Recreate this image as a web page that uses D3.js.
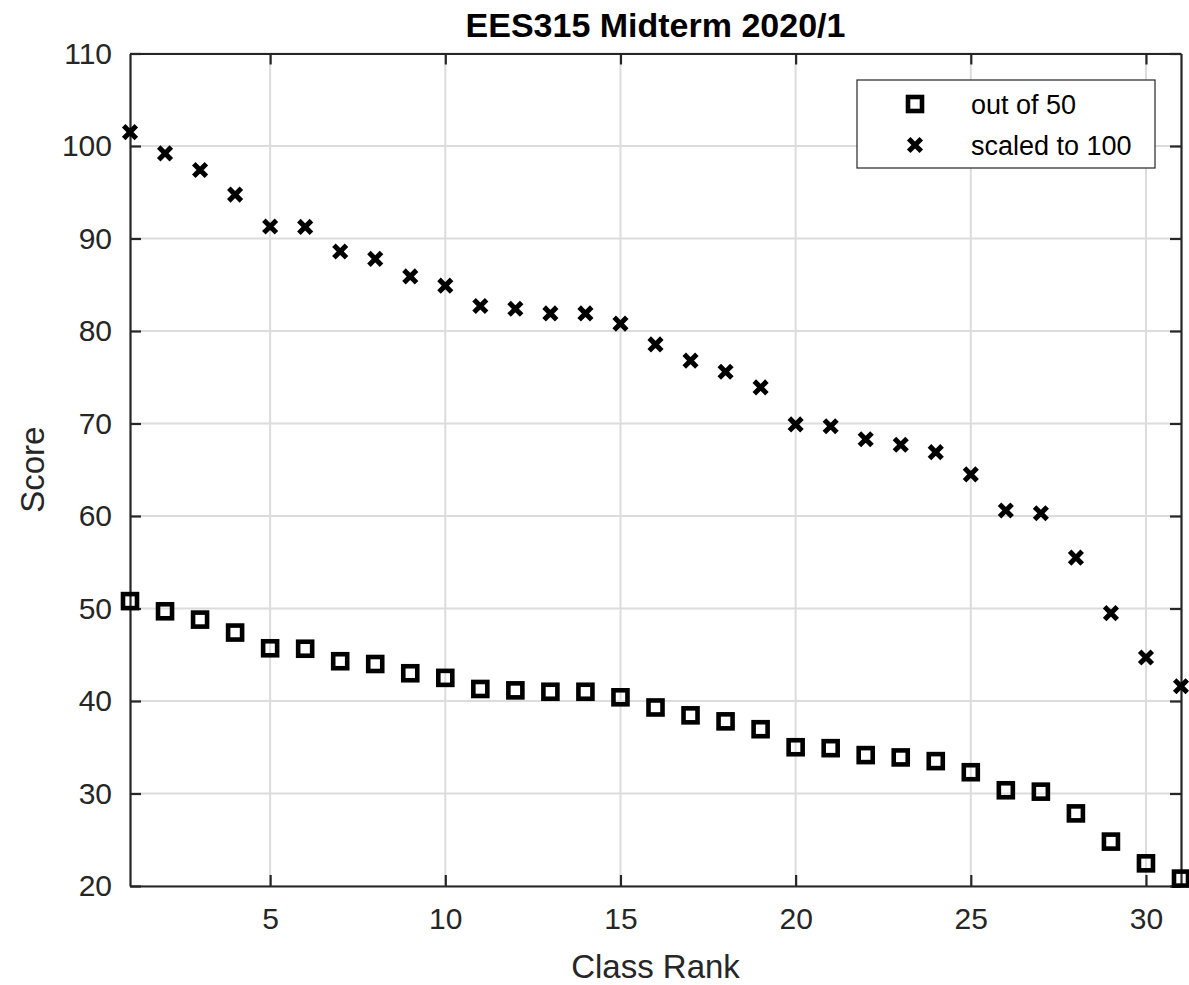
<!DOCTYPE html>
<html>
<head>
<meta charset="utf-8">
<script src="https://cdn.jsdelivr.net/npm/d3@7"></script>
<style>
  body { margin: 0; background: #fff; }
  text { font-family: "Liberation Sans", Arial, sans-serif; }
</style>
</head>
<body>
<div id="chart"></div>
<script>
// data
var ranks = d3.range(1, 32);
var outOf50 = [50.8, 49.7, 48.8, 47.4, 45.7, 45.65, 44.3, 44.0, 43.0, 42.5,
               41.3, 41.15, 41.0, 41.0, 40.4, 39.3, 38.45, 37.8, 36.95, 35.0,
               34.9, 34.15, 33.9, 33.5, 32.3, 30.35, 30.2, 27.85, 24.8, 22.45, 20.8];
var scaled100 = [101.5, 99.2, 97.4, 94.75, 91.3, 91.25, 88.6, 87.8, 85.9, 84.9,
                 82.7, 82.4, 81.9, 81.9, 80.8, 78.55, 76.8, 75.6, 73.9, 69.9,
                 69.7, 68.3, 67.7, 66.9, 64.5, 60.6, 60.3, 55.5, 49.5, 44.7, 41.6];
var xTicks = [5, 10, 15, 20, 25, 30];
var yTicks = [20, 30, 40, 50, 60, 70, 80, 90, 100, 110];
var seriesNames = ["out of 50", "scaled to 100"];

var W = 1189, H = 985;
var pLeft = 130, pRight = 1181, pTop = 53.5, pBottom = 886;

var svg = d3.select("#chart").append("svg")
  .attr("width", W).attr("height", H);

var x = d3.scaleLinear().domain([1, 31]).range([pLeft, pRight]);
var y = d3.scaleLinear().domain([20, 110]).range([pBottom, pTop]);

// grid
svg.append("g").selectAll("line").data(xTicks).enter().append("line")
  .attr("x1", function(d){return x(d)}).attr("x2", function(d){return x(d)})
  .attr("y1", pTop).attr("y2", pBottom)
  .attr("stroke", "#dcdcdc").attr("stroke-width", 2);
svg.append("g").selectAll("line").data(yTicks).enter().append("line")
  .attr("x1", pLeft).attr("x2", pRight)
  .attr("y1", function(d){return y(d)}).attr("y2", function(d){return y(d)})
  .attr("stroke", "#dcdcdc").attr("stroke-width", 2);

// axes, ticks inward, box on
var tickLen = 11;
var axB = svg.append("g").attr("transform", "translate(0," + pBottom + ")")
  .call(d3.axisBottom(x).tickValues(xTicks).tickSizeInner(-tickLen).tickSizeOuter(0).tickPadding(22));
var axT = svg.append("g").attr("transform", "translate(0," + pTop + ")")
  .call(d3.axisTop(x).tickValues(xTicks).tickSizeInner(-tickLen).tickSizeOuter(0).tickFormat(""));
var axL = svg.append("g").attr("transform", "translate(" + pLeft + ",0)")
  .call(d3.axisLeft(y).tickValues(yTicks).tickSizeInner(-tickLen).tickSizeOuter(0).tickPadding(18));
var axR = svg.append("g").attr("transform", "translate(" + pRight + ",0)")
  .call(d3.axisRight(y).tickValues(yTicks).tickSizeInner(-tickLen).tickSizeOuter(0).tickFormat(""));

[axB, axT, axL, axR].forEach(function(a){
  a.select(".domain").attr("stroke", "#262626").attr("stroke-width", 2.2);
  a.selectAll(".tick line").attr("stroke", "#262626").attr("stroke-width", 2.2);
  a.selectAll(".tick text").style("fill", "#262626")
    .style("font-size", "30px").style("font-family", "'Liberation Sans', Arial, sans-serif");
});
axB.selectAll(".tick text").attr("dy", "0.71em");

// markers
function drawSquares(g, cx, cy) {
  g.append("rect").attr("x", cx - 7).attr("y", cy - 7)
    .attr("width", 14).attr("height", 14)
    .attr("fill", "none").attr("stroke", "#000").attr("stroke-width", 4.6);
}
function drawCross(g, cx, cy) {
  var s = 6.3;
  g.append("path")
    .attr("d", "M" + (cx - s) + "," + (cy - s) + "L" + (cx + s) + "," + (cy + s) +
               "M" + (cx - s) + "," + (cy + s) + "L" + (cx + s) + "," + (cy - s))
    .attr("stroke", "#000").attr("stroke-width", 5);
}

var gSq = svg.append("g");
ranks.forEach(function(r, i){ drawSquares(gSq, x(r), y(outOf50[i])); });
var gX = svg.append("g");
ranks.forEach(function(r, i){ drawCross(gX, x(r), y(scaled100[i])); });

// legend
var lg = svg.append("g");
lg.append("rect").attr("x", 857).attr("y", 80).attr("width", 298).attr("height", 88)
  .attr("fill", "#fff").attr("stroke", "#262626").attr("stroke-width", 1.2);
drawSquares(lg, 915, 104);
drawCross(lg, 915, 145);
lg.selectAll("text.leg").data(seriesNames).enter().append("text")
  .attr("x", 971).attr("y", function(d, i){ return 114 + i * 41; })
  .style("font-size", "27px").style("fill", "#000")
  .text(function(d){ return d; });

// title and labels
svg.append("text").attr("x", (pLeft + pRight) / 2).attr("y", 37)
  .attr("text-anchor", "middle").style("font-size", "34px").style("font-weight", "bold")
  .style("fill", "#000").text("EES315 Midterm 2020/1");
svg.append("text").attr("x", (pLeft + pRight) / 2).attr("y", 978)
  .attr("text-anchor", "middle").style("font-size", "33px").style("fill", "#262626").text("Class Rank");
svg.append("text").attr("transform", "translate(44," + ((pTop + pBottom) / 2) + ") rotate(-90)")
  .attr("text-anchor", "middle").style("font-size", "33px").style("fill", "#262626").text("Score");
</script>
</body>
</html>
